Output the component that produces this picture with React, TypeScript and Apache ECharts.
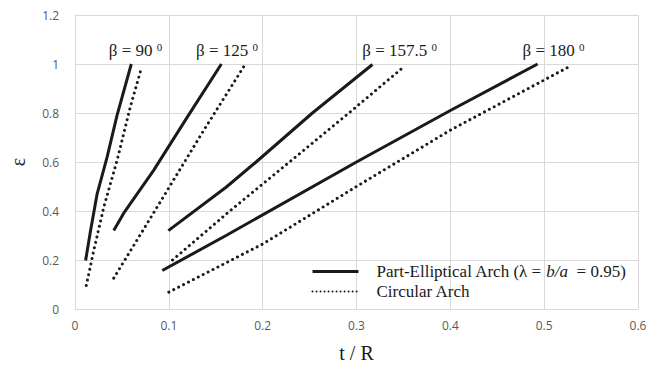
import React, { useEffect, useRef } from "react";
import * as echarts from "echarts";

// Data (t/R, ε)
const ellip90 = [[0.0113, 0.198], [0.0166, 0.32], [0.0236, 0.47], [0.0342, 0.62], [0.0448, 0.79], [0.060, 1.0]];
const circ90 = [[0.012, 0.096], [0.020, 0.239], [0.0307, 0.416], [0.0448, 0.606], [0.0589, 0.824], [0.0702, 0.976]];
const ellip125 = [[0.0413, 0.32], [0.0519, 0.391], [0.0836, 0.565], [0.12, 0.785], [0.156, 1.0]];
const circ125 = [[0.0413, 0.126], [0.085, 0.40], [0.1365, 0.725], [0.180, 0.99]];
const ellip157 = [[0.0995, 0.32], [0.161, 0.497], [0.193, 0.60], [0.253, 0.80], [0.317, 0.998]];
const circ157 = [[0.104, 0.2], [0.165, 0.40], [0.235, 0.62], [0.295, 0.81], [0.349, 0.984]];
const ellip180 = [[0.093, 0.157], [0.161, 0.30], [0.30, 0.60], [0.40, 0.81], [0.493, 1.0]];
const circ180 = [[0.100, 0.069], [0.20, 0.265], [0.30, 0.50], [0.40, 0.73], [0.527, 0.99]];

const betaNames = ["90", "125", "157.5", "180"];
const betaLabelX = [0.0646, 0.162, 0.346, 0.51];
const betaLabelY = 1.055;

const ellipName = "Part-Elliptical Arch";
const circName = "Circular Arch";

const serif = "Liberation Serif";
const ink = "#1a1a1a";

export default function App() {
  const ref = useRef<HTMLDivElement>(null);
  useEffect(() => {
    if (!ref.current) return;
    const chart = echarts.init(ref.current, undefined, { renderer: "svg" });
    const solid = (data: number[][]) => ({
      type: "line",
      name: ellipName,
      data,
      symbol: "none",
      lineStyle: { color: ink, width: 3, type: "solid" },
      itemStyle: { color: ink },
    });
    const dotted = (data: number[][]) => ({
      type: "line",
      name: circName,
      data,
      symbol: "none",
      lineStyle: { color: ink, width: 3, type: [0.01, 5.5], cap: "round" },
      itemStyle: { color: ink },
    });
    const gridColor = "#d9d9d9";
    const fmt = (v: number) => String(+v.toFixed(1));
    chart.setOption({
      animation: false,
      grid: { left: 71, right: 34, top: 15, bottom: 61 },
      xAxis: {
        type: "value",
        min: 0,
        max: 0.6,
        interval: 0.1,
        name: "t / R",
        nameLocation: "middle",
        nameGap: 34,
        nameTextStyle: { fontFamily: serif, fontSize: 20, color: ink },
        axisLine: { show: true, lineStyle: { color: gridColor } },
        axisTick: { show: false },
        splitLine: { show: true, lineStyle: { color: gridColor } },
        axisLabel: { formatter: fmt, color: "#595959", fontFamily: "Open Sans", fontSize: 12, margin: 10 },
      },
      yAxis: {
        type: "value",
        min: 0,
        max: 1.2,
        interval: 0.2,
        name: "ε",
        nameLocation: "middle",
        nameGap: 47,
        nameRotate: 90,
        nameTextStyle: { fontFamily: serif, fontSize: 20, color: ink },
        axisLine: { show: true, lineStyle: { color: gridColor } },
        axisTick: { show: false },
        splitLine: { show: true, lineStyle: { color: gridColor } },
        axisLabel: { formatter: fmt, color: "#595959", fontFamily: "Open Sans", fontSize: 12, margin: 16 },
      },
      legend: {
        left: 306,
        top: 258,
        orient: "vertical",
        itemWidth: 46,
        itemHeight: 16,
        itemGap: 3,
        itemStyle: { opacity: 0 },
        data: [
          { name: ellipName, lineStyle: { width: 3, type: "solid" } },
          { name: circName, lineStyle: { type: [0.01, 4], width: 2, cap: "round" } },
        ],
        formatter: (name: string) =>
          name === ellipName
            ? "{n|Part-Elliptical Arch (λ = }{i|b/a}{n|  = 0.95)}"
            : "{n|Circular Arch}",
        textStyle: {
          padding: [0, 0, 0, 13],
          rich: {
            n: { fontFamily: serif, fontSize: 17, color: ink },
            i: { fontFamily: serif, fontSize: 17, color: ink, fontStyle: "italic" },
          },
        },
      },
      series: [
        solid(ellip90),
        dotted(circ90),
        solid(ellip125),
        dotted(circ125),
        solid(ellip157),
        dotted(circ157),
        solid(ellip180),
        dotted(circ180),
      ],
    });
    const graphics = betaNames.map((b, i) => {
      const [px, py] = chart.convertToPixel({ gridIndex: 0 }, [betaLabelX[i], betaLabelY]) as number[];
      return {
        type: "text",
        x: px,
        y: py,
        silent: true,
        style: {
          text: `{a|β = ${b} }{s|0}`,
          align: "center",
          verticalAlign: "middle",
          rich: {
            a: { fontFamily: serif, fontSize: 17, fill: ink },
            s: { fontFamily: serif, fontSize: 11, fill: ink, verticalAlign: "top", padding: [0, 0, 8, 0] },
          },
        },
      };
    });
    chart.setOption({ graphic: graphics });
    return () => chart.dispose();
  }, []);
  return <div ref={ref} style={{ position: "absolute", left: 0, top: 0, width: 672, height: 370 }} />;
}
